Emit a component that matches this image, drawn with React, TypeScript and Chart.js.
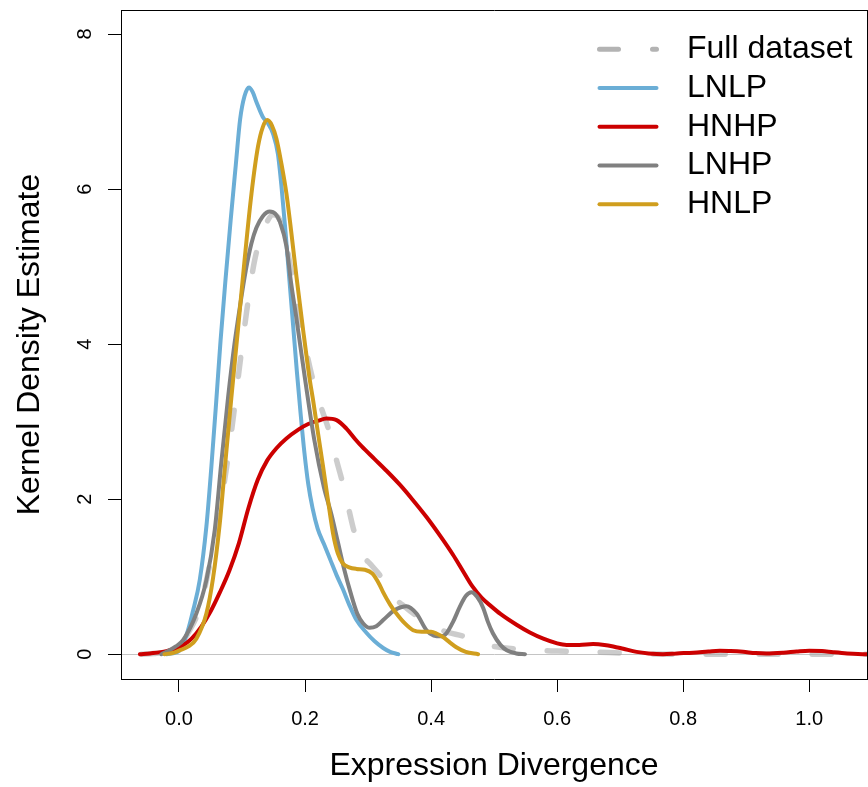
import React, { useEffect, useRef } from 'react';
import { Chart, registerables } from 'chart.js';

Chart.register(...registerables);

// ---- axis ticks ----
const xTicks = [0, 0.2, 0.4, 0.6, 0.8, 1.0];
const xTickLabels = ['0.0', '0.2', '0.4', '0.6', '0.8', '1.0'];
const yTicks = [0, 2, 4, 6, 8];
const yTickLabels = ['0', '2', '4', '6', '8'];

// ---- series (x: expression divergence, y: density) ----
const fullX = [-0.06, -0.04, -0.02, 0.0, 0.015, 0.033, 0.0487, 0.0646, 0.078, 0.0884, 0.099, 0.107, 0.114, 0.12, 0.128, 0.138, 0.149, 0.16, 0.17, 0.181, 0.193, 0.21, 0.225, 0.24, 0.25, 0.26, 0.27, 0.278, 0.29, 0.305, 0.3186, 0.334, 0.36, 0.385, 0.42, 0.456, 0.477, 0.5, 0.546, 0.6, 0.65, 0.72, 0.8, 0.9, 1.0, 1.1];
const fullY = [0, 0.01, 0.03, 0.1, 0.28, 0.6, 1.15, 1.85, 2.55, 3.2, 3.9, 4.4, 4.8, 5.08, 5.34, 5.55, 5.67, 5.6, 5.3, 4.8, 4.27, 3.62, 3.2, 2.83, 2.5, 2.2, 1.85, 1.58, 1.3, 1.15, 1.02, 0.8, 0.6, 0.45, 0.3, 0.22, 0.14, 0.1, 0.06, 0.04, 0.03, 0.01, 0, 0, 0, 0];

const lnlpX = [-0.02, -0.01, 0.0, 0.0064, 0.014, 0.022, 0.033, 0.0435, 0.0514, 0.059, 0.066, 0.074, 0.082, 0.09, 0.097, 0.104, 0.111, 0.117, 0.123, 0.133, 0.141, 0.149, 0.157, 0.163, 0.169, 0.175, 0.181, 0.187, 0.193, 0.199, 0.205, 0.212, 0.22, 0.23, 0.24, 0.25, 0.26, 0.27, 0.2816, 0.297, 0.31, 0.324, 0.335, 0.348];
const lnlpY = [0, 0.01, 0.04, 0.12, 0.3, 0.55, 0.96, 1.65, 2.42, 3.25, 4.05, 4.85, 5.6, 6.3, 6.9, 7.2, 7.31, 7.25, 7.12, 6.93, 6.85, 6.72, 6.45, 6.0, 5.45, 4.85, 4.25, 3.65, 3.1, 2.6, 2.2, 1.88, 1.62, 1.42, 1.22, 1.02, 0.84, 0.64, 0.44, 0.28, 0.17, 0.08, 0.03, 0];

const hnhpX = [-0.062, -0.046, -0.02, 0.0064, 0.02, 0.035, 0.05, 0.065, 0.08, 0.095, 0.11, 0.125, 0.14, 0.155, 0.17, 0.19, 0.205, 0.22, 0.234, 0.25, 0.2657, 0.28, 0.29, 0.31, 0.33, 0.35, 0.37, 0.3927, 0.415, 0.435, 0.45, 0.465, 0.48, 0.495, 0.51, 0.5356, 0.5567, 0.578, 0.6, 0.615, 0.635, 0.657, 0.675, 0.689, 0.705, 0.726, 0.745, 0.768, 0.79, 0.816, 0.84, 0.858, 0.875, 0.895, 0.915, 0.932, 0.959, 0.98, 1.0, 1.02, 1.038, 1.06, 1.09, 1.1];
const hnhpY = [0, 0.01, 0.04, 0.116, 0.2, 0.35, 0.55, 0.8, 1.08, 1.43, 1.88, 2.25, 2.5, 2.66, 2.78, 2.9, 2.97, 3.01, 3.04, 3.02, 2.91, 2.77, 2.68, 2.52, 2.36, 2.19, 2.0, 1.77, 1.52, 1.28, 1.08, 0.88, 0.73, 0.62, 0.52, 0.38, 0.28, 0.2, 0.14, 0.12, 0.12, 0.13, 0.12, 0.1, 0.07, 0.03, 0.01, 0, 0.01, 0.02, 0.035, 0.045, 0.04, 0.03, 0.015, 0.01, 0.02, 0.035, 0.045, 0.04, 0.025, 0.01, 0, 0];

const lnhpX = [-0.028, -0.02, -0.005, 0.0064, 0.0276, 0.0435, 0.0567, 0.067, 0.078, 0.088, 0.097, 0.106, 0.115, 0.1228, 0.133, 0.144, 0.153, 0.16, 0.1705, 0.178, 0.186, 0.2, 0.215, 0.23, 0.242, 0.252, 0.262, 0.272, 0.283, 0.292, 0.3027, 0.313, 0.324, 0.3424, 0.361, 0.3768, 0.3927, 0.404, 0.4164, 0.4244, 0.435, 0.4455, 0.455, 0.4641, 0.473, 0.4825, 0.49, 0.498, 0.51, 0.52, 0.535, 0.549];
const lnhpY = [0, 0.03, 0.1, 0.18, 0.525, 0.955, 1.6, 2.46, 3.32, 4.0, 4.5, 4.95, 5.3, 5.5, 5.65, 5.71, 5.68, 5.58, 5.26, 4.78, 4.35, 3.55, 2.75, 2.15, 1.8, 1.45, 1.1, 0.8, 0.52, 0.4, 0.34, 0.36, 0.44, 0.57, 0.62, 0.525, 0.31, 0.24, 0.23, 0.27, 0.42, 0.61, 0.75, 0.8, 0.74, 0.6, 0.42, 0.27, 0.12, 0.05, 0.01, 0];

const hnlpX = [-0.023, -0.01, 0.001, 0.015, 0.0276, 0.0435, 0.054, 0.0646, 0.0725, 0.083, 0.0937, 0.104, 0.115, 0.1254, 0.133, 0.1403, 0.1475, 0.1546, 0.162, 0.1705, 0.1785, 0.1864, 0.197, 0.2075, 0.2127, 0.2206, 0.2286, 0.2365, 0.2444, 0.252, 0.26, 0.27, 0.2816, 0.295, 0.307, 0.318, 0.3238, 0.335, 0.345, 0.358, 0.3714, 0.385, 0.4, 0.41, 0.419, 0.43, 0.44, 0.455, 0.4746];
const hnlpY = [0, 0.015, 0.05, 0.1, 0.2, 0.525, 0.98, 1.68, 2.38, 3.3, 4.2, 5.08, 5.94, 6.55, 6.8, 6.89, 6.82, 6.65, 6.35, 5.94, 5.42, 4.87, 4.18, 3.54, 3.28, 2.85, 2.42, 1.98, 1.56, 1.3, 1.17, 1.12, 1.1, 1.09, 1.04, 0.9, 0.8, 0.64, 0.525, 0.4, 0.31, 0.29, 0.29, 0.26, 0.22, 0.15, 0.09, 0.03, 0];

const FONT = '"Liberation Sans", Arial, Helvetica, sans-serif';

const toPoints = (xs: number[], ys: number[]) => xs.map((x, i) => ({ x, y: ys[i] }));

const rLegend = {
  id: 'rLegend',
  afterDraw(chart: any) {
    const { ctx, chartArea } = chart;
    const lineStart = chartArea.right - 267.5;
    const lineEnd = chartArea.right - 210.5;
    const textX = chartArea.right - 180;
    chart.data.datasets.forEach((ds: any, i: number) => {
      const y = chartArea.top + 39.3 + i * 38.75;
      ctx.save();
      ctx.beginPath();
      ctx.lineCap = 'round';
      ctx.strokeStyle = ds.legendColor || ds.borderColor;
      ctx.lineWidth = ds.legendWidth || ds.borderWidth;
      ctx.setLineDash(ds.borderDash || []);
      ctx.moveTo(lineStart, y);
      ctx.lineTo(lineEnd, y);
      ctx.stroke();
      ctx.setLineDash([]);
      ctx.fillStyle = '#000';
      ctx.font = `32px ${FONT}`;
      ctx.textBaseline = 'middle';
      ctx.textAlign = 'left';
      ctx.fillText(ds.label, textX, y);
      ctx.restore();
    });
  },
};

export default function App() {
  const ref = useRef<HTMLCanvasElement | null>(null);

  useEffect(() => {
    document.body.style.margin = '0';
    document.body.style.overflow = 'hidden';
    const canvas = ref.current;
    if (!canvas) return;
    Chart.defaults.font.family = FONT;

    const common = {
      pointRadius: 0,
      pointHoverRadius: 0,
      fill: false,
      cubicInterpolationMode: 'monotone' as const,
      borderCapStyle: 'round' as const,
      borderJoinStyle: 'round' as const,
      xAxisID: 'x',
      yAxisID: 'y',
    };

    const chart = new Chart(canvas, {
      type: 'line',
      data: {
        datasets: [
          {
            ...common,
            label: 'Full dataset',
            data: toPoints(fullX, fullY),
            borderColor: 'rgba(170,170,170,0.6)',
            legendColor: '#B3B3B3',
            legendWidth: 5,
            borderWidth: 5.5,
            borderDash: [19, 34],
            order: 5,
          } as any,
          { ...common, label: 'LNLP', data: toPoints(lnlpX, lnlpY), borderColor: '#6BAED6', borderWidth: 4, order: 4 },
          { ...common, label: 'HNHP', data: toPoints(hnhpX, hnhpY), borderColor: '#CC0000', borderWidth: 4, order: 3 },
          { ...common, label: 'LNHP', data: toPoints(lnhpX, lnhpY), borderColor: '#808080', borderWidth: 4, order: 2 },
          { ...common, label: 'HNLP', data: toPoints(hnlpX, hnlpY), borderColor: '#D09E1E', borderWidth: 4, order: 1 },
        ],
      },
      options: {
        responsive: false,
        devicePixelRatio: 1,
        animation: false,
        layout: { padding: { top: 10, right: 1, bottom: 0, left: 0 } },
        plugins: { legend: { display: false }, tooltip: { enabled: false } },
        events: [],
        scales: {
          x: {
            type: 'linear',
            position: 'bottom',
            min: -0.092,
            max: 1.0916,
            afterBuildTicks: (s: any) => {
              s.ticks = xTicks.map((v) => ({ value: v }));
            },
            afterFit: (s: any) => {
              s.height = 108;
              s.paddingLeft = 0;
              s.paddingRight = 0;
            },
            ticks: {
              callback: (_v: any, i: number) => xTickLabels[i],
              autoSkip: false,
              maxRotation: 0,
              minRotation: 0,
              padding: 15,
              color: '#000',
              font: { size: 20, family: FONT },
            },
            grid: {
              display: true,
              drawOnChartArea: false,
              drawTicks: true,
              tickLength: 13,
              tickColor: '#000',
              tickWidth: 1,
            },
            border: { display: true, color: '#000', width: 1 },
            title: {
              display: true,
              text: 'Expression Divergence',
              color: '#000',
              font: { size: 32, family: FONT },
              padding: { top: 0, bottom: 2 },
            },
          },
          y: {
            type: 'linear',
            position: 'left',
            min: -0.32,
            max: 8.31,
            afterBuildTicks: (s: any) => {
              s.ticks = yTicks.map((v) => ({ value: v }));
            },
            afterFit: (s: any) => {
              s.width = 121;
              s.paddingTop = 0;
              s.paddingBottom = 0;
            },
            ticks: {
              callback: (_v: any, i: number) => yTickLabels[i],
              autoSkip: false,
              minRotation: 90,
              maxRotation: 90,
              crossAlign: 'center',
              padding: 17,
              color: '#000',
              font: { size: 20, family: FONT },
            },
            grid: {
              display: true,
              drawOnChartArea: true,
              drawTicks: true,
              tickLength: 13,
              tickColor: '#000',
              tickWidth: 1,
              lineWidth: 1,
              color: (c: any) => (c.tick && c.tick.value === 0 ? '#C4C4C4' : 'rgba(0,0,0,0)'),
            },
            border: { display: true, color: '#000', width: 1 },
            title: {
              display: true,
              text: 'Kernel Density Estimate',
              color: '#000',
              font: { size: 32, family: FONT },
              padding: { top: 11, bottom: 0 },
            },
          },
          x2: {
            type: 'linear',
            position: 'top',
            display: true,
            ticks: { display: false },
            grid: { display: true, drawOnChartArea: false, drawTicks: false, color: 'rgba(0,0,0,0)' },
            border: { display: true, color: '#000', width: 1 },
            afterFit: (s: any) => {
              s.height = 0;
            },
          },
          y2: {
            type: 'linear',
            position: 'right',
            display: true,
            ticks: { display: false },
            grid: { display: true, drawOnChartArea: false, drawTicks: false, color: 'rgba(0,0,0,0)' },
            border: { display: true, color: '#000', width: 1 },
            afterFit: (s: any) => {
              s.width = 0;
            },
          },
        },
      } as any,
      plugins: [rLegend],
    });

    return () => {
      chart.destroy();
    };
  }, []);

  return (
    <div style={{ width: 868, height: 787 }}>
      <canvas ref={ref} width={868} height={787} style={{ display: 'block' }} />
    </div>
  );
}
